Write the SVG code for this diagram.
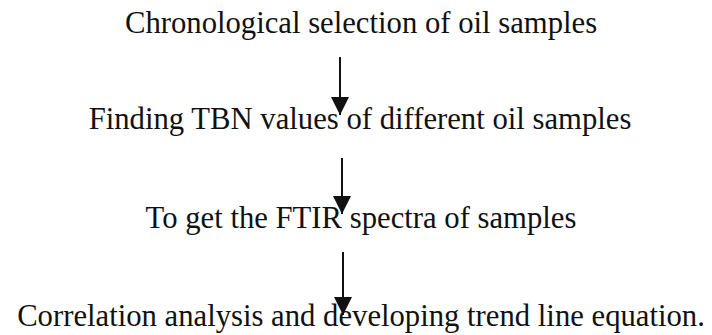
<svg xmlns="http://www.w3.org/2000/svg" width="712" height="335" viewBox="0 0 712 335">
<style>
.t{font-family:"Liberation Serif","Times New Roman",serif;font-size:30.7px;fill:#111;text-anchor:middle}
.c{stroke:#111;stroke-width:2;fill:none}
</style>
<defs>
<marker id="ah" viewBox="0 0 18 18" refX="18" refY="9" markerWidth="18" markerHeight="18" markerUnits="userSpaceOnUse" orient="auto">
<path d="M0,0 L18,9 L0,18 z" fill="#111"/>
</marker>
</defs>
<rect width="712" height="335" fill="#fff"/>
<g id="n1"><text class="t" x="361" y="33">Chronological selection of oil samples</text></g>
<g id="n2"><text class="t" x="360" y="129">Finding TBN values of different oil samples</text></g>
<g id="n3"><text class="t" x="361" y="228">To get the FTIR spectra of samples</text></g>
<g id="n4"><text class="t" x="361" y="326">Correlation analysis and developing trend line equation.</text></g>
<g id="connectors">
<line class="c" x1="340" y1="57" x2="340" y2="115" marker-end="url(#ah)"/>
<line class="c" x1="342" y1="158" x2="342" y2="214" marker-end="url(#ah)"/>
<line class="c" x1="343" y1="252" x2="343" y2="315" marker-end="url(#ah)"/>
</g>
</svg>
